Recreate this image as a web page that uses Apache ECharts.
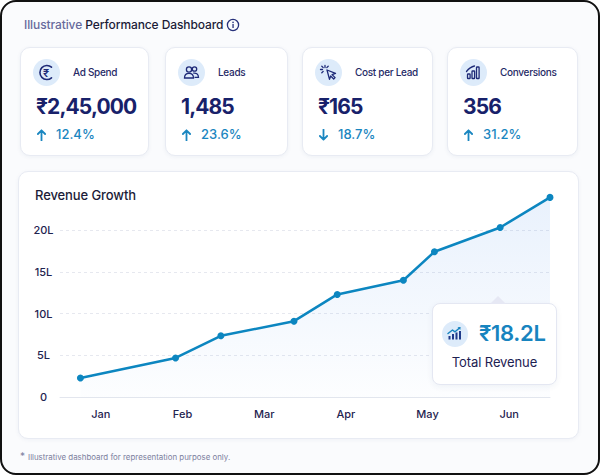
<!DOCTYPE html>
<html>
<head>
<meta charset="utf-8">
<script src="https://cdn.jsdelivr.net/npm/echarts@6/dist/echarts.min.js"></script>
<style>
  html, body { margin: 0; padding: 0; width: 600px; height: 475px; overflow: hidden; background: #fff; font-family: Inter, "Noto Sans", sans-serif; }
  body > div, body > svg { position: absolute; }
  #frame { left: 0; top: 0; width: 596px; height: 471px; border: 2px solid #111; border-radius: 16px; background: #fafbfd; }
  .title { left: 24px; top: 17px; font-size: 12px; font-weight: 500; color: #1b1c38; letter-spacing: -0.1px; }
  .title .muted { color: #676a9c; }
  .info { left: 226px; top: 18px; }
  .card { top: 47px; height: 107px; background: #fff; border: 1px solid #e8ebf3; border-radius: 10px; box-shadow: 0 1px 4px rgba(40,60,120,0.06); }
  .card div { position: absolute; }
  .card .ic { left: 12px; top: 11px; width: 27px; height: 27px; border-radius: 50%; background: #ddebfa; }
  .card .ic svg { position: absolute; left: 0; top: 0; }
  .card .lbl { left: 52px; top: 18px; font-size: 10px; color: #262a66; font-weight: 500; letter-spacing: -0.3px; }
  .card .val { left: 15px; top: 46px; font-size: 21px; font-weight: 700; color: #18216a; letter-spacing: -0.9px; }
  .card .chg { left: 16px; top: 78px; font-size: 13px; color: #1a86c0; font-weight: 500; white-space: nowrap; }
  .card .chg svg { position: relative; top: 2px; margin-right: 10px; }
  #panel { left: 18px; top: 171px; width: 559px; height: 266px; background: #fff; border: 1px solid #e8ebf3; border-radius: 10px; box-shadow: 0 1px 4px rgba(40,60,120,0.05); }
  #panel .ptitle { position: absolute; left: 16px; top: 15px; font-size: 13px; font-weight: 500; color: #1b1c38; letter-spacing: -0.1px; }
  #chart { left: 0; top: 0; width: 600px; height: 475px; }
  #total { left: 432px; top: 303px; width: 123px; height: 80px; background: #fff; border: 1px solid #e4e7f2; border-radius: 8px; box-shadow: 0 2px 6px rgba(40,60,120,0.06); }
  #total div { position: absolute; }
  #total .tri { left: 57px; top: -8px; width: 0; height: 0; border-left: 8px solid transparent; border-right: 8px solid transparent; border-bottom: 8px solid #e6e8f4; }
  #total .ic { left: 9px; top: 17px; width: 26px; height: 26px; border-radius: 50%; background: #ddebfa; }
  #total .big { left: 46px; top: 16px; font-size: 22px; font-weight: 600; color: #1784bf; letter-spacing: -0.3px; }
  #total .sub { left: 0; width: 123px; top: 50px; text-align: center; font-size: 13px; color: #1d2152; letter-spacing: -0.1px; }
  .foot { left: 20px; top: 450px; font-size: 7.9px; color: #7c809e; }
  .foot span { font-size: 10px; margin-right: 3px; }
</style>
</head>
<body>
<div id="frame"></div>
<div class="title"><span class="muted">Illustrative</span> Performance Dashboard</div>
<svg class="info" width="14" height="14" viewBox="0 0 14 14"><circle cx="7" cy="7" r="5.6" fill="none" stroke="#26307a" stroke-width="1.3"/><rect x="6.4" y="6" width="1.3" height="4" fill="#26307a"/><circle cx="7.05" cy="4.4" r="0.8" fill="#26307a"/></svg>

<div class="card" style="left:20px;width:127px">
  <div class="ic"><svg width="27" height="27" viewBox="0 0 27 27">
    <path d="M18.5 8.2 A7 7 0 1 0 18.5 18.8" fill="none" stroke="#1e2a78" stroke-width="1.6" stroke-linecap="round"/>
    <text x="13.2" y="17.6" text-anchor="middle" font-size="11" font-weight="600" fill="#1e2a78">₹</text>
  </svg></div>
  <div class="lbl">Ad Spend</div>
  <div class="val" id="v0"></div>
  <div class="chg" id="c0"></div>
</div>

<div class="card" style="left:165px;width:121px">
  <div class="ic"><svg width="27" height="27" viewBox="0 0 27 27" fill="none" stroke="#1e2a78" stroke-width="1.3">
    <circle cx="11" cy="10.5" r="2.6"/><circle cx="16.5" cy="10" r="2.2"/>
    <path d="M6.5 19 c0-3 2-4.6 4.5-4.6 s4.5 1.6 4.5 4.6 z"/>
    <path d="M15.2 14.2 c2.8-0.6 5.3 0.8 5.3 4.2 h-4"/>
  </svg></div>
  <div class="lbl">Leads</div>
  <div class="val" id="v1"></div>
  <div class="chg" id="c1"></div>
</div>

<div class="card" style="left:302px;width:129px">
  <div class="ic"><svg width="27" height="27" viewBox="0 0 27 27" fill="none" stroke="#1e2a78" stroke-width="1.3" stroke-linecap="round">
    <path d="M12 11 l8.5 3.4 -3.4 1.2 3 3 -1.4 1.4 -3 -3 -1.2 3.4 z" stroke-linejoin="round"/>
    <path d="M10 6.5 v2 M5.5 10.5 h2 M6.8 7.2 l1.4 1.4 M13.2 7.2 l-1.4 1.4 M6.8 13.8 l1.4 -1.4"/>
  </svg></div>
  <div class="lbl">Cost per Lead</div>
  <div class="val" id="v2"></div>
  <div class="chg" id="c2"></div>
</div>

<div class="card" style="left:447px;width:129px">
  <div class="ic"><svg width="27" height="27" viewBox="0 0 27 27" fill="none" stroke="#1e2a78" stroke-width="1.3">
    <rect x="7.5" y="15" width="2.6" height="4.5" rx="0.6"/><rect x="12" y="12" width="2.6" height="7.5" rx="0.6"/><rect x="16.5" y="8" width="2.6" height="11.5" rx="0.6"/>
    <path d="M6.5 12.5 Q10 8 14.5 7" stroke-linecap="round"/>
  </svg></div>
  <div class="lbl">Conversions</div>
  <div class="val" id="v3"></div>
  <div class="chg" id="c3"></div>
</div>

<div id="panel"><div class="ptitle">Revenue Growth</div></div>
<div id="chart"></div>
<div id="total">
  <div class="tri"></div>
  <div class="ic"><svg width="26" height="26" viewBox="0 0 26 26" fill="#1e3a8a" stroke="none">
    <rect x="6.5" y="15" width="2" height="3.5"/><rect x="10" y="13" width="2" height="5.5"/><rect x="13.5" y="11.5" width="2" height="7"/><rect x="17" y="10" width="2" height="8.5"/>
    <path d="M6 12.5 L10.5 9 L13 10.8 L17.5 7" fill="none" stroke="#1784bf" stroke-width="1.5" stroke-linecap="round" stroke-linejoin="round"/>
    <path d="M15.5 6.3 L18.6 6 L18.3 9 Z" fill="#1784bf"/>
  </svg></div>
  <div class="big">₹18.2L</div>
  <div class="sub">Total Revenue</div>
</div>
<div class="foot"><span>*</span>Illustrative dashboard for representation purpose only.</div>

<script>
// KPI cards
var kpiValues = ['₹2,45,000', '1,485', '₹165', '356'];
var kpiChanges = ['12.4%', '23.6%', '18.7%', '31.2%'];
var kpiUp = [true, true, false, true];

// revenue growth (x in half-month steps, Jan centre = 1)
var months = ['Jan', 'Feb', 'Mar', 'Apr', 'May', 'Jun'];
var pointX = [0.5, 2.83, 3.94, 5.73, 6.79, 8.41, 9.17, 10.78, 12];
var revenue = [2.3, 4.7, 7.35, 9.1, 12.3, 14.0, 17.4, 20.3, 23.9];
var yTicks = [0, 5, 10, 15, 20];

var arrowUp = '<svg width="9" height="12" viewBox="0 0 9 12"><path d="M4.5 11.5 V1.5 M0.9 5 L4.5 1.3 L8.1 5" fill="none" stroke="#1a86c0" stroke-width="1.8" stroke-linecap="round" stroke-linejoin="round"/></svg>';
var arrowDown = '<svg width="9" height="12" viewBox="0 0 9 12"><path d="M4.5 0.5 V10.5 M0.9 7 L4.5 10.7 L8.1 7" fill="none" stroke="#1a86c0" stroke-width="1.8" stroke-linecap="round" stroke-linejoin="round"/></svg>';

for (var i = 0; i < kpiValues.length; i++) {
    document.getElementById('v' + i).textContent = kpiValues[i];
    document.getElementById('c' + i).innerHTML = (kpiUp[i] ? arrowUp : arrowDown) + kpiChanges[i];
}

var chart = echarts.init(document.getElementById('chart'), null, {renderer: 'svg'});
var data = [];
for (var j = 0; j < pointX.length; j++) {
    data.push([pointX[j], revenue[j]]);
}

var option = {
    animation: false,
    grid: {left: 60, right: 50, top: 188.2, bottom: 77.7},
    xAxis: {
        type: 'value',
        min: 0, max: 12, interval: 1,
        axisLine: {show: true, lineStyle: {color: '#e3e6ee', width: 1}},
        axisTick: {show: false},
        splitLine: {show: false},
        axisLabel: {
            margin: 11,
            color: '#1f2450',
            fontSize: 11,
            fontWeight: 500,
            fontFamily: 'Inter',
            formatter: function (v) {
                return v % 2 === 1 ? months[(v - 1) / 2] : '';
            }
        }
    },
    yAxis: {
        type: 'value',
        min: 0, max: 25, interval: 5,
        axisLine: {show: false},
        axisTick: {show: false},
        splitLine: {show: true, showMaxLine: false, showMinLine: false, lineStyle: {color: '#e6e8ef', type: [3, 3]}},
        axisLabel: {
            showMaxLabel: false,
            align: 'center',
            margin: 16.5,
            color: '#1f2450',
            fontSize: 11,
            fontWeight: 500,
            fontFamily: 'Inter',
            formatter: function (v) {
                if (yTicks.indexOf(v) < 0) return '';
                return v === 0 ? '0' : v + 'L';
            }
        }
    },
    series: [{
        type: 'line',
        data: data,
        clip: false,
        symbol: 'circle',
        symbolSize: 7,
        itemStyle: {color: '#0c86c0'},
        lineStyle: {color: '#0c86c0', width: 2.5},
        areaStyle: {
            color: new echarts.graphic.LinearGradient(0, 0, 0, 1, [
                {offset: 0, color: 'rgba(70,140,235,0.17)'},
                {offset: 1, color: 'rgba(70,140,235,0.02)'}
            ])
        }
    }]
};
chart.setOption(option);
</script>
</body>
</html>
